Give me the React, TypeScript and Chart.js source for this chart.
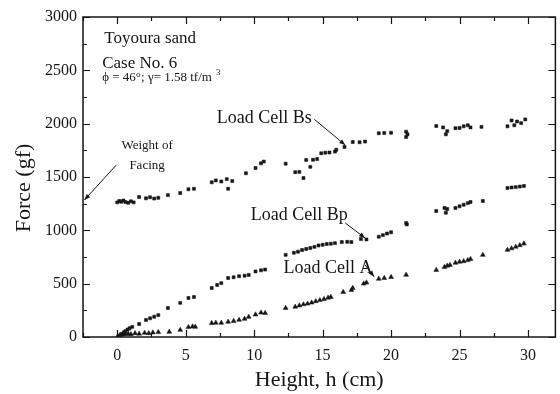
import { useEffect, useRef } from "react";
import { Chart, registerables } from "chart.js";

Chart.register(...registerables);

// ---- data (Height h in cm, Force in gf) ----
const hBs = [0.0, 0.15, 0.3, 0.45, 0.6, 0.8, 1.0, 1.2, 1.6, 2.1, 2.4, 2.7, 3.0, 3.7, 4.6, 5.2, 5.6, 6.9, 7.2, 7.6, 8.0, 8.1, 8.4, 9.4, 10.1, 10.5, 10.7, 12.3, 13.0, 13.3, 13.6, 13.8, 14.1, 14.3, 14.6, 14.9, 15.2, 15.5, 15.9, 16.0, 16.6, 17.2, 17.7, 18.1, 19.1, 19.5, 20.0, 21.1, 21.1, 21.2, 23.3, 23.8, 24.0, 24.1, 24.7, 25.0, 25.3, 25.6, 25.8, 26.6, 28.5, 28.8, 29.0, 29.2, 29.5, 29.8];
const fBs = [1262, 1275, 1268, 1280, 1265, 1258, 1272, 1262, 1312, 1300, 1310, 1298, 1305, 1330, 1350, 1385, 1390, 1450, 1468, 1458, 1480, 1390, 1462, 1535, 1585, 1628, 1645, 1625, 1545, 1548, 1490, 1660, 1595, 1662, 1668, 1722, 1728, 1730, 1738, 1755, 1782, 1828, 1826, 1832, 1910, 1912, 1915, 1925, 1875, 1900, 1978, 1965, 1900, 1930, 1958, 1960, 1975, 1985, 1965, 1970, 1975, 2030, 1985, 2020, 2005, 2040];

const hBp = [0.05, 0.2, 0.35, 0.5, 0.6, 0.75, 0.9, 1.1, 1.6, 2.1, 2.4, 2.7, 3.0, 3.7, 4.6, 5.2, 5.6, 6.9, 7.3, 7.6, 8.1, 8.5, 8.9, 9.3, 9.6, 10.1, 10.5, 10.8, 12.3, 12.9, 13.2, 13.5, 13.8, 14.1, 14.4, 14.7, 15.0, 15.3, 15.6, 15.9, 16.4, 16.8, 17.1, 17.8, 18.2, 19.1, 19.4, 19.7, 20.0, 21.1, 21.15, 23.3, 23.9, 24.0, 24.1, 24.7, 25.0, 25.3, 25.6, 25.8, 26.7, 28.5, 28.8, 29.1, 29.4, 29.7];
const fBp = [5, 15, 30, 45, 55, 70, 82, 95, 122, 160, 175, 190, 205, 272, 320, 366, 375, 460, 487, 505, 553, 560, 570, 575, 582, 615, 625, 632, 770, 790, 800, 815, 825, 835, 845, 858, 865, 872, 875, 880, 890, 892, 890, 918, 915, 940, 955, 970, 982, 1068, 1055, 1181, 1209, 1165, 1200, 1210, 1225, 1240, 1255, 1266, 1275, 1397, 1402, 1405, 1410, 1416];

const hA = [0.2, 0.4, 0.6, 0.8, 1.0, 1.3, 1.6, 2.0, 2.3, 2.6, 3.0, 3.8, 4.6, 5.2, 5.5, 5.7, 6.9, 7.2, 7.6, 8.1, 8.5, 8.9, 9.3, 9.6, 10.1, 10.5, 10.8, 12.3, 13.0, 13.3, 13.6, 13.9, 14.2, 14.5, 14.8, 15.1, 15.4, 15.6, 16.5, 17.1, 17.2, 18.0, 18.2, 19.1, 19.5, 20.0, 21.1, 23.3, 23.9, 24.1, 24.3, 24.7, 25.0, 25.3, 25.6, 25.8, 26.7, 28.5, 28.8, 29.1, 29.4, 29.7];
const fA = [18, 22, 28, 30, 25, 35, 30, 38, 35, 42, 45, 48, 66, 92, 98, 95, 130, 133, 132, 142, 150, 160, 170, 188, 210, 228, 225, 272, 283, 295, 305, 312, 322, 335, 345, 355, 368, 375, 422, 440, 459, 500, 510, 545, 552, 562, 582, 628, 656, 668, 675, 695, 705, 710, 720, 731, 769, 816, 830, 845, 860, 875];

const xMin = -2.5;
const xMax = 32;
const yMin = 0;
const yMax = 3000;
const xLabelValues = [0, 5, 10, 15, 20, 25, 30];
const yLabelValues = [0, 500, 1000, 1500, 2000, 2500, 3000];

const INK = "#161616";
const SERIF = '"Liberation Serif", "Times New Roman", serif';

const toPts = (hs: number[], fs: number[]) => hs.map((h, i) => ({ x: h, y: fs[i] }));

function arrow(ctx: CanvasRenderingContext2D, x1: number, y1: number, x2: number, y2: number) {
  ctx.beginPath();
  ctx.moveTo(x1, y1);
  ctx.lineTo(x2, y2);
  ctx.stroke();
  const ang = Math.atan2(y2 - y1, x2 - x1);
  const L = 6, W = 2.3;
  ctx.beginPath();
  ctx.moveTo(x2, y2);
  ctx.lineTo(x2 - L * Math.cos(ang) + W * Math.sin(ang), y2 - L * Math.sin(ang) - W * Math.cos(ang));
  ctx.lineTo(x2 - L * Math.cos(ang) - W * Math.sin(ang), y2 - L * Math.sin(ang) + W * Math.cos(ang));
  ctx.closePath();
  ctx.fill();
}

const framePlugin = {
  id: "frameNotes",
  afterDatasetsDraw(chart: any) {
    const { ctx, chartArea: a, scales } = chart;
    const xs = scales.x, ys = scales.y;
    const X = (v: number) => xs.getPixelForValue(v);
    const Y = (v: number) => ys.getPixelForValue(v);
    ctx.save();
    ctx.strokeStyle = INK;
    ctx.fillStyle = INK;
    ctx.lineWidth = 1.5;
    ctx.strokeRect(a.left, a.top, a.right - a.left, a.bottom - a.top);
    ctx.lineWidth = 1.2;
    // inward ticks
    for (let v = xMin; v <= xMax + 1e-6; v += 2.5) {
      const px = Math.round(X(v)) + 0.5;
      const len = Math.abs(v % 5) < 1e-6 ? 7 : 4;
      ctx.beginPath();
      ctx.moveTo(px, a.bottom);
      ctx.lineTo(px, a.bottom - len);
      ctx.moveTo(px, a.top);
      ctx.lineTo(px, a.top + len);
      ctx.stroke();
    }
    for (let v = yMin; v <= yMax + 1e-6; v += 250) {
      const py = Math.round(Y(v)) + 0.5;
      const len = v % 500 === 0 ? 7 : 4;
      ctx.beginPath();
      ctx.moveTo(a.left, py);
      ctx.lineTo(a.left + len, py);
      ctx.moveTo(a.right, py);
      ctx.lineTo(a.right - len, py);
      ctx.stroke();
    }
    // annotations
    ctx.textBaseline = "alphabetic";
    ctx.textAlign = "left";
    ctx.font = `17px ${SERIF}`;
    ctx.fillText("Toyoura sand", X(-0.95), Y(2756));
    ctx.fillText("Case No. 6", X(-1.1), Y(2522));
    ctx.font = `13px ${SERIF}`;
    const phi = "\u03d5 = 46\u00b0; \u03b3= 1.58 tf/m";
    ctx.fillText(phi, X(-1.1), Y(2400));
    const w = ctx.measureText(phi).width;
    ctx.font = `9px ${SERIF}`;
    ctx.fillText("3", X(-1.1) + w + 4, Y(2400) - 6);

    ctx.font = `18px ${SERIF}`;
    ctx.fillText("Load Cell Bs", X(7.27), Y(2006));
    ctx.fillText("Load Cell Bp", X(9.75), Y(1097));
    ctx.fillText("Load Cell A", X(12.15), Y(600));

    ctx.font = `13px ${SERIF}`;
    ctx.textAlign = "center";
    ctx.fillText("Weight of", X(2.18), Y(1760));
    ctx.fillText("Facing", X(2.18), Y(1572));

    ctx.lineWidth = 1;
    arrow(ctx, X(14.4), Y(2040), X(16.65), Y(1800));
    arrow(ctx, X(16.65), Y(1069), X(18.1), Y(928));
    arrow(ctx, X(18.1), Y(675), X(18.76), Y(565));
    arrow(ctx, X(-0.07), Y(1612), X(-2.4), Y(1284));
    ctx.restore();
  },
};

export default function App() {
  const ref = useRef<HTMLCanvasElement | null>(null);
  useEffect(() => {
    if (!ref.current) return;
    const chart = new Chart(ref.current, {
      type: "scatter",
      data: {
        datasets: [
          {
            label: "Load Cell Bs",
            data: toPts(hBs, fBs),
            pointStyle: "rect",
            pointRadius: 2.1,
            backgroundColor: INK,
            borderColor: INK,
            borderWidth: 0.6,
          },
          {
            label: "Load Cell Bp",
            data: toPts(hBp, fBp),
            pointStyle: "rect",
            pointRadius: 2.1,
            backgroundColor: INK,
            borderColor: INK,
            borderWidth: 0.6,
          },
          {
            label: "Load Cell A",
            data: toPts(hA, fA),
            pointStyle: "triangle",
            pointRadius: 2.8,
            backgroundColor: INK,
            borderColor: INK,
            borderWidth: 0.5,
          },
        ],
      },
      options: {
        responsive: false,
        animation: false,
        devicePixelRatio: 1,
        layout: { padding: { top: 17, right: 2, left: 0, bottom: 0 } },
        plugins: { legend: { display: false }, tooltip: { enabled: false } },
        scales: {
          x: {
            type: "linear",
            min: xMin,
            max: xMax,
            grid: { display: false, drawTicks: false, tickLength: 0 },
            border: { display: false },
            afterFit: (s: any) => { s.height = 57; },
            afterBuildTicks: (s: any) => { s.ticks = xLabelValues.map((v) => ({ value: v })); },
            ticks: {
              color: INK,
              font: { family: SERIF, size: 16 },
              padding: 9,
              maxRotation: 0,
              autoSkip: false,
              callback: (v: any) => String(v),
            },
            title: {
              display: true,
              text: "Height, h (cm)",
              color: INK,
              font: { family: SERIF, size: 22 },
              padding: { top: 0, bottom: 1 },
            },
          },
          y: {
            type: "linear",
            min: yMin,
            max: yMax,
            grid: { display: false, drawTicks: false, tickLength: 0 },
            border: { display: false },
            afterFit: (s: any) => { s.width = 83; },
            afterBuildTicks: (s: any) => { s.ticks = yLabelValues.map((v) => ({ value: v })); },
            ticks: {
              color: INK,
              font: { family: SERIF, size: 16 },
              padding: 6,
              autoSkip: false,
              callback: (v: any) => String(v),
            },
            title: {
              display: true,
              text: "Force (gf)\u00a0\u00a0\u00a0\u00a0",
              color: INK,
              font: { family: SERIF, size: 22 },
              padding: { top: 11, bottom: 0 },
            },
          },
        },
      },
      plugins: [framePlugin],
    });
    return () => chart.destroy();
  }, []);
  return (
    <div style={{ position: "fixed", left: 0, top: 0, width: 560, height: 394, background: "#fff" }}>
      <canvas ref={ref} width={560} height={394} style={{ width: 560, height: 394, display: "block" }} />
    </div>
  );
}
